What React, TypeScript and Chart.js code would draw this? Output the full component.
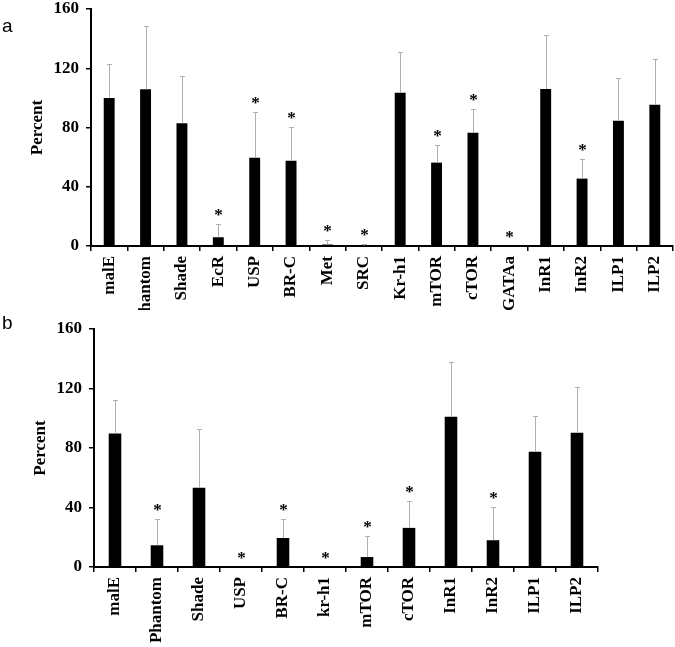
import React, { useEffect, useRef } from "react";
import { Chart, registerables } from "chart.js";

Chart.register(...registerables);

const yTicks = [0, 40, 80, 120, 160];

const catsA = ["malE", "Phantom", "Shade", "EcR", "USP", "BR-C", "Met", "SRC", "Kr-h1", "mTOR", "cTOR", "GATAa", "InR1", "InR2", "ILP1", "ILP2"];
const valsA = [100, 105.8, 82.8, 5.9, 59.6, 57.6, 1, 0.3, 103.5, 56.3, 76.5, 0, 106, 45.5, 84.6, 95.4];
const errA = [123, 148.7, 114.6, 14.9, 90.7, 80.6, 4, 1.5, 130.8, 68.2, 92.7, null, 142.5, 58.9, 113.7, 126];
const sigA = [false, false, false, true, true, true, true, true, false, true, true, true, false, true, false, false];

const catsB = ["malE", "Phantom", "Shade", "USP", "BR-C", "kr-h1", "mTOR", "cTOR", "InR1", "InR2", "ILP1", "ILP2"];
const valsB = [89.8, 14.6, 53.2, 0, 19.5, 0, 6.7, 26.3, 101, 18, 77.4, 90.2];
const errB = [112, 32.5, 92.9, null, 32.1, null, 21.1, 44.4, 137.6, 40.4, 101.5, 121];
const sigB = [false, true, false, true, true, true, true, true, false, true, false, false];

const FONT = "'Liberation Serif', 'Times New Roman', serif";

type PanelProps = {
  cats: string[];
  vals: number[];
  errs: (number | null)[];
  sigs: boolean[];
  width: number;
  height: number;
  axisWidth: number;
  axisHeight: number;
  padTop: number;
  padRight: number;
  titlePad: number;
};

function Panel(p: PanelProps) {
  const ref = useRef<HTMLCanvasElement | null>(null);
  useEffect(() => {
    if (!ref.current) return;
    const errPlugin = {
      id: "errbars",
      afterDatasetsDraw(chart: any) {
        const { ctx } = chart;
        const x = chart.scales.x;
        const y = chart.scales.y;
        ctx.save();
        p.errs.forEach((e, i) => {
          const cx = Math.round(x.getPixelForValue(i));
          const yv = y.getPixelForValue(p.vals[i]);
          let top = yv;
          if (e != null) {
            const ye = Math.round(y.getPixelForValue(e));
            top = ye;
            ctx.strokeStyle = "#b0b0b0";
            ctx.lineWidth = 1;
            ctx.beginPath();
            ctx.moveTo(cx + 0.5, yv);
            ctx.lineTo(cx + 0.5, ye);
            ctx.moveTo(cx - 2, ye + 0.5);
            ctx.lineTo(cx + 3, ye + 0.5);
            ctx.stroke();
          }
          if (p.sigs[i]) {
            ctx.fillStyle = "#000";
            ctx.font = `bold 17px ${FONT}`;
            ctx.textAlign = "center";
            ctx.textBaseline = "alphabetic";
            ctx.fillText("*", cx + 0.5, top - 4);
          }
        });
        ctx.restore();
      },
    };
    const chart = new Chart(ref.current, {
      type: "bar",
      data: {
        labels: p.cats,
        datasets: [
          {
            data: p.vals,
            backgroundColor: "#000",
            borderWidth: 0,
            barPercentage: 0.3,
            categoryPercentage: 1,
          },
        ],
      },
      options: {
        responsive: false,
        animation: false,
        layout: { padding: { left: 0, right: p.padRight, top: p.padTop, bottom: 0 } },
        plugins: { legend: { display: false }, tooltip: { enabled: false } },
        scales: {
          x: {
            grid: { offset: true, drawOnChartArea: false, drawTicks: true, tickLength: 5, color: "#000", lineWidth: 1.5 },
            border: { color: "#000", width: 2 },
            ticks: {
              autoSkip: false,
              maxRotation: 90,
              minRotation: 90,
              color: "#000",
              padding: 5,
              font: { family: FONT, size: 17, weight: "bold" },
            },
            afterFit: (s: any) => {
              s.height = p.axisHeight;
              s.paddingLeft = 0;
              s.paddingRight = 0;
            },
          },
          y: {
            min: 0,
            max: 160,
            afterBuildTicks: (s: any) => {
              s.ticks = yTicks.map((v) => ({ value: v }));
            },
            grid: { drawOnChartArea: false, drawTicks: true, tickLength: 5, color: "#000", lineWidth: 1.5 },
            border: { color: "#000", width: 2 },
            ticks: { color: "#000", padding: 7, font: { family: FONT, size: 17, weight: "bold" } },
            title: {
              display: true,
              text: "Percent",
              color: "#000",
              font: { family: FONT, size: 17, weight: "bold" },
              padding: { top: p.titlePad, bottom: 0 },
            },
            afterFit: (s: any) => {
              s.width = p.axisWidth;
              s.paddingTop = 0;
              s.paddingBottom = 0;
            },
          },
        },
      },
      plugins: [errPlugin],
    } as any);
    return () => chart.destroy();
  }, []);
  return <canvas ref={ref} width={p.width} height={p.height} style={{ display: "block" }} />;
}

export default function App() {
  const letter: React.CSSProperties = {
    position: "absolute",
    left: 2,
    fontFamily: "'Liberation Sans', Arial, sans-serif",
    fontSize: 19,
    lineHeight: "19px",
    color: "#000",
  };
  return (
    <div style={{ position: "absolute", left: 0, top: 0, width: 675, height: 647, background: "#fff", overflow: "hidden" }}>
      <div style={{ position: "absolute", left: 0, top: 0 }}>
        <Panel cats={catsA} vals={valsA} errs={errA} sigs={sigA} width={675} height={310} axisWidth={91} axisHeight={64} padTop={9} padRight={2} titlePad={27} />
      </div>
      <div style={{ position: "absolute", left: 0, top: 310 }}>
        <Panel cats={catsB} vals={valsB} errs={errB} sigs={sigB} width={675} height={337} axisWidth={94} axisHeight={80} padTop={19} padRight={77} titlePad={30} />
      </div>
      <div style={{ ...letter, top: 16 }}>a</div>
      <div style={{ ...letter, top: 313 }}>b</div>
    </div>
  );
}
